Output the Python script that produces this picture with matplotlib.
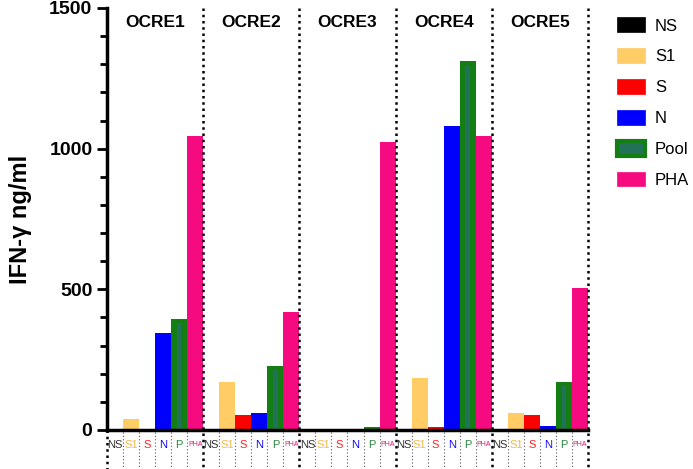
import matplotlib.pyplot as plt
from matplotlib.patches import Patch
import numpy as np

plt.rcParams['font.family'] = ['Liberation Sans', 'DejaVu Sans']

groups = ['OCRE1', 'OCRE2', 'OCRE3', 'OCRE4', 'OCRE5']
stims = ['NS', 'S1', 'S', 'N', 'Pool', 'PHA']
tick_names = ['NS', 'S1', 'S', 'N', 'P', 'PHA']

ns = [0, 0, 0, 0, 0]
s1 = [40, 170, 0, 185, 60]
s = [0, 52, 0, 10, 52]
n = [345, 60, 0, 1082, 15]
pool = [395, 228, 12, 1310, 172]
pha = [1045, 418, 1025, 1045, 505]

colors = ['black', '#FFCC66', '#FF0000', '#0000FF', '#127E14', '#F50A80']
pool_inner = '#22725A'
tick_colors = ['#333333', '#F5B942', '#FF2020', '#1010FF', '#2E8B3E', '#F50A80']

values = np.array([ns, s1, s, n, pool, pha]).T  # groups x stims

fig = plt.figure(figsize=(6.93, 4.69), dpi=100)
ax = fig.add_axes([0.1544, 0.0832, 0.694, 0.8998])

k = len(stims)
for g in range(len(groups)):
    for j in range(k):
        x = g * k + j + 0.5
        ax.bar(x, values[g, j], width=1.0, color=colors[j], linewidth=0)
        if j == 4 and values[g, j] > 30:
            ax.bar(x, values[g, j] - 15, width=0.28, color=pool_inner, linewidth=0)

total = len(groups) * k
ax.set_xlim(0, total)
ax.set_ylim(0, 1500)

# group titles
for g, name in enumerate(groups):
    ax.text(g * k + k / 2, 1450, name, ha='center', va='center',
            fontsize=12.5, fontweight='bold')

# group separators (full height)
for g in range(1, len(groups) + 1):
    ax.plot([g * k, g * k], [1500, -1500 * 0.1], color='black', ls=(0, (1, 1.5)),
            lw=1.8, clip_on=False)
ax.plot([0, 0], [0, -1500 * 0.1], color='black', ls=(0, (1, 1.5)),
        lw=1.8, clip_on=False)

# inner separators below axis
for i in range(total):
    if i % k != 0:
        ax.plot([i, i], [-8, -1500 * 0.1], color='#555555', ls=(0, (1, 2)),
                lw=0.8, clip_on=False)

# category labels below axis
for i in range(total):
    j = i % k
    ax.text(i + 0.5, -52, tick_names[j], ha='center', va='center',
            fontsize=5 if j == 5 else 8, color=tick_colors[j])

ax.set_xticks([])
ax.set_yticks([0, 500, 1000, 1500])
ax.set_yticks(np.arange(0, 1501, 100), minor=True)
ax.tick_params(axis='y', which='major', length=7, width=2, labelsize=14)
ax.tick_params(axis='y', which='minor', length=5, width=2)
for lbl in ax.get_yticklabels():
    lbl.set_fontweight('bold')
ax.set_ylabel('IFN-γ ng/ml', fontsize=17, fontweight='bold', labelpad=12)

ax.spines['top'].set_visible(False)
ax.spines['right'].set_visible(False)
ax.spines['left'].set_linewidth(2.5)
ax.spines['bottom'].set_linewidth(2.5)

handles = []
for j in range(k):
    if j == 4:
        handles.append(Patch(facecolor=pool_inner, edgecolor=colors[j], linewidth=3,
                             label=stims[j]))
    else:
        handles.append(Patch(facecolor=colors[j], edgecolor=colors[j], linewidth=0.5,
                             label=stims[j]))
fig.legend(handles=handles, loc='upper left', bbox_to_anchor=(0.868, 0.995),
           frameon=False, fontsize=12, handlelength=1.7, handleheight=1.0,
           handletextpad=0.6, labelspacing=0.88)

fig.savefig('out.png', dpi=100)
